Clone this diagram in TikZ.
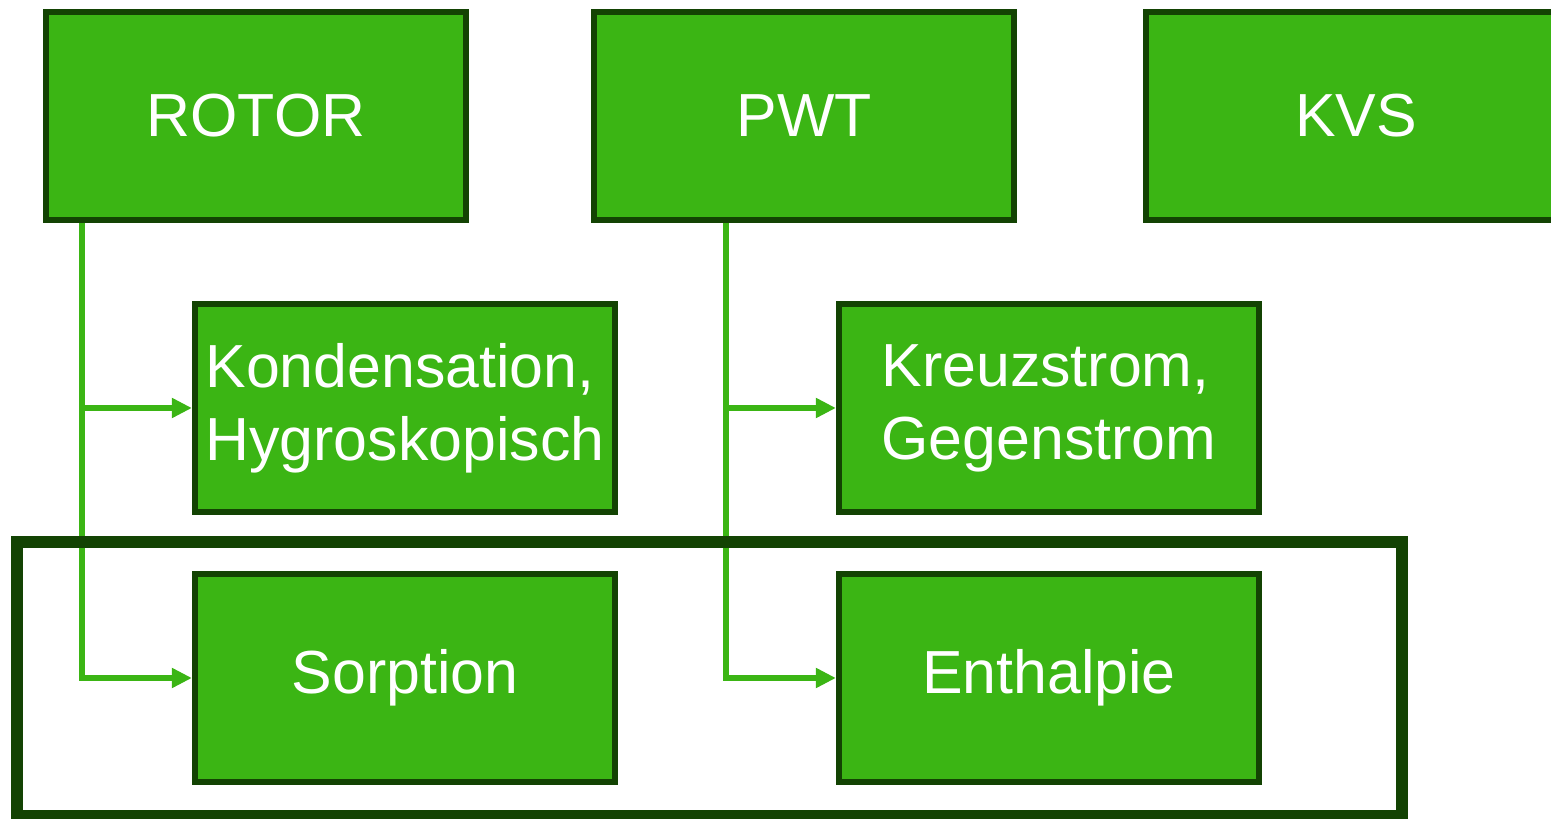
\documentclass[tikz,border=0pt]{standalone}
\usepackage{fontspec}
\setmainfont{Liberation Sans}
\usepackage{tikz}
\usetikzlibrary{arrows.meta}

\definecolor{gruen}{HTML}{3BB514}
\definecolor{dunkelgruen}{HTML}{134303}

\begin{document}
\begin{tikzpicture}[%
        x=0.01cm, y=-0.01cm,
        kasten/.style={draw=dunkelgruen, fill=gruen, line width=0.06cm,
            minimum width=4.2cm, minimum height=2.08cm, inner sep=0pt,
            text=white, align=left,
            font=\fontsize{17.3}{20.8}\selectfont},
        verb/.style={draw=gruen, line width=0.056cm,
            -{Triangle[length=0.2cm,width=0.19cm]}},
        rahmen/.style={draw=dunkelgruen, line width=0.12cm}
        ]
    \clip (0,0) rectangle (1551,819);

    % Obere Reihe
    \node[kasten] (rotor) at (256,116)  {ROTOR};
    \node[kasten] (pwt)   at (804,116)  {PWT};
    \node[kasten] (kvs)   at (1356,116) {KVS};

    % Untergruppen
    \node[kasten] (kond)  at (405,408)  {Kondensation,\\Hygroskopisch};
    \node[kasten] (kreuz) at (1049,408) {Kreuzstrom,\\Gegenstrom};
    \node[kasten] (sorp)  at (405,678)  {Sorption};
    \node[kasten] (enth)  at (1049,678) {Enthalpie};

    % Abzweige
    \coordinate (rotor-ab) at ([xshift=-1.74cm]rotor.south);
    \coordinate (pwt-ab)   at ([xshift=-0.78cm]pwt.south);

    % Verbindungen
    \draw[verb] (rotor-ab) |- (sorp.west);
    \draw[verb] (rotor-ab |- kond.west) -- (kond.west);
    \draw[verb] (pwt-ab) |- (enth.west);
    \draw[verb] (pwt-ab |- kreuz.west) -- (kreuz.west);

    % Rahmen
    \draw[rahmen] (17,542) rectangle (1402,816);
\end{tikzpicture}
\end{document}
